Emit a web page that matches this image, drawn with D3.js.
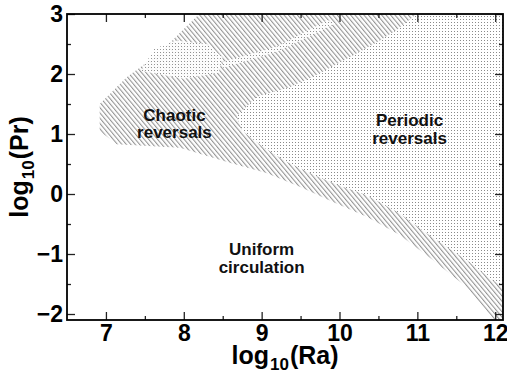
<!DOCTYPE html>
<html>
<head>
<meta charset="utf-8">
<script src="https://cdn.jsdelivr.net/npm/d3@7"></script>
<style>
  body { margin: 0; background: #fff; }
  svg { display: block; font-family: "Liberation Sans", Arial, sans-serif; }
</style>
</head>
<body>
<svg class="svg" width="507" height="375"></svg>
<script>
// boundaries of the regimes, in (log10 Ra, log10 Pr)
const chaoticRegion = [
  [6.92, 1.50], [7.27, 1.95], [7.69, 2.35], [8.0, 2.75], [8.2, 3.0],
  [12.1, 3.0], [12.1, -2.1], [11.96, -2.1], [11.88, -1.93], [11.63, -1.55],
  [11.2, -1.1], [10.77, -0.68], [10.35, -0.38], [9.91, -0.13], [9.49, 0.12],
  [9.06, 0.35], [8.59, 0.52], [7.95, 0.77], [7.14, 0.83], [6.92, 1.05]
];
const periodicRegion = [
  [10.99, 3.0], [12.1, 3.0], [12.1, -1.55], [11.96, -1.43], [11.63, -1.1],
  [11.19, -0.72], [10.77, -0.32], [10.35, -0.02], [10.04, 0.12], [9.7, 0.3],
  [9.3, 0.55], [9.0, 0.8], [8.75, 1.05], [8.68, 1.3], [8.94, 1.62],
  [9.36, 1.78], [9.7, 1.98], [10.13, 2.28], [10.47, 2.52], [10.73, 2.73]
];
// small periodic patches inside the chaotic area
const periodicPatches = [
  [[7.45, 2.05], [7.62, 2.42], [7.9, 2.56], [8.3, 2.5], [8.5, 2.28], [8.45, 2.02], [8.0, 1.92]],
  [[8.5, 2.2], [9.2, 2.46], [9.85, 2.9], [9.95, 2.84], [9.2, 2.37], [8.5, 2.1]]
];

const xTicks = [7, 8, 9, 10, 11, 12];
const yTicks = [-2, -1, 0, 1, 2, 3];
const xMinor = [7.5, 8.5, 9.5, 10.5, 11.5];
const yMinor = [-1.5, -0.5, 0.5, 1.5, 2.5];

const labels = [
  { lines: ["Chaotic", "reversals"], ra: 7.88, pr: 1.22 },
  { lines: ["Periodic", "reversals"], ra: 10.9, pr: 1.13 },
  { lines: ["Uniform", "circulation"], ra: 9.0, pr: -1.02 }
];

const width = 507, height = 375;
const svg = d3.select(".svg");

const x = d3.scaleLinear().domain([6.5, 12.1]).range([67, 503]);
const y = d3.scaleLinear().domain([-2.1, 3]).range([320, 14]);

// patterns
const defs = svg.append("defs");
const hatch = defs.append("pattern")
  .attr("id", "hatch")
  .attr("patternUnits", "userSpaceOnUse")
  .attr("width", 3.4).attr("height", 10)
  .attr("patternTransform", "rotate(-40)");
hatch.append("line")
  .attr("x1", 0.6).attr("y1", 0).attr("x2", 0.6).attr("y2", 10)
  .attr("stroke", "#5a5a5a").attr("stroke-width", 0.75);

const dots = defs.append("pattern")
  .attr("id", "dots")
  .attr("patternUnits", "userSpaceOnUse")
  .attr("width", 3).attr("height", 3);
dots.append("rect").attr("width", 3).attr("height", 3).attr("fill", "#fff");
dots.append("rect").attr("x", 1).attr("y", 1).attr("width", 1).attr("height", 1).attr("fill", "#8a8a8a");

const line = d3.line().x(d => x(d[0])).y(d => y(d[1]));

const clip = defs.append("clipPath").attr("id", "frame");
clip.append("rect").attr("x", x(6.5)).attr("y", y(3))
  .attr("width", x(12.1) - x(6.5)).attr("height", y(-2.1) - y(3));

const plot = svg.append("g").attr("clip-path", "url(#frame)");

plot.append("path")
  .attr("d", line(chaoticRegion) + "Z")
  .attr("fill", "url(#hatch)");

plot.append("path")
  .attr("d", line(periodicRegion) + "Z")
  .attr("fill", "url(#dots)");

plot.selectAll(".patch")
  .data(periodicPatches)
  .enter()
  .append("path")
  .attr("class", "patch")
  .attr("d", d => line(d) + "Z")
  .attr("fill", "url(#dots)")
  .attr("opacity", 0.9);

// region labels, one text per line
svg.selectAll(".lab")
  .data(labels.flatMap(d => d.lines.map((t, i) => ({ t, i, ra: d.ra, pr: d.pr }))))
  .enter()
  .append("text")
  .attr("class", "lab")
  .attr("text-anchor", "middle")
  .attr("font-size", 17)
  .attr("font-weight", "bold")
  .attr("fill", "#111")
  .attr("x", d => x(d.ra))
  .attr("y", d => y(d.pr) + d.i * 17.5)
  .text(d => d.t);

// axes: ticks inside on all four sides
function styleAxis(g) {
  g.select(".domain").remove();
  g.selectAll(".tick line").attr("stroke", "#222").attr("stroke-width", 1.3);
}
function styleLabels(g) {
  g.selectAll("text").attr("font-size", 23).attr("font-weight", "bold")
    .attr("fill", "#000").attr("font-family", "Liberation Sans, Arial, sans-serif");
}

svg.append("g")
  .attr("transform", `translate(0,${y(-2.1)})`)
  .call(d3.axisBottom(x).tickValues(xTicks).tickSize(-8).tickPadding(5).tickFormat(d3.format("d")))
  .call(styleAxis)
  .call(styleLabels);
svg.append("g")
  .attr("transform", `translate(0,${y(-2.1)})`)
  .call(d3.axisBottom(x).tickValues(xMinor).tickSize(-4).tickFormat(""))
  .call(styleAxis);
svg.append("g")
  .attr("transform", `translate(0,${y(3)})`)
  .call(d3.axisTop(x).tickValues(xTicks).tickSize(-8).tickFormat(""))
  .call(styleAxis);
svg.append("g")
  .attr("transform", `translate(0,${y(3)})`)
  .call(d3.axisTop(x).tickValues(xMinor).tickSize(-4).tickFormat(""))
  .call(styleAxis);

svg.append("g")
  .attr("transform", `translate(${x(6.5)},0)`)
  .call(d3.axisLeft(y).tickValues(yTicks).tickSize(-8).tickPadding(4).tickFormat(d3.format("d")))
  .call(styleAxis)
  .call(styleLabels);
svg.append("g")
  .attr("transform", `translate(${x(6.5)},0)`)
  .call(d3.axisLeft(y).tickValues(yMinor).tickSize(-4).tickFormat(""))
  .call(styleAxis);
svg.append("g")
  .attr("transform", `translate(${x(12.1)},0)`)
  .call(d3.axisRight(y).tickValues(yTicks).tickSize(-8).tickFormat(""))
  .call(styleAxis);
svg.append("g")
  .attr("transform", `translate(${x(12.1)},0)`)
  .call(d3.axisRight(y).tickValues(yMinor).tickSize(-4).tickFormat(""))
  .call(styleAxis);

// frame
svg.append("rect")
  .attr("x", x(6.5)).attr("y", y(3))
  .attr("width", x(12.1) - x(6.5)).attr("height", y(-2.1) - y(3))
  .attr("fill", "none").attr("stroke", "#000").attr("stroke-width", 1.8);

// axis titles
const xt = svg.append("text")
  .attr("x", (x(6.5) + x(12.1)) / 2).attr("y", 364)
  .attr("text-anchor", "middle").attr("font-size", 25).attr("font-weight", "bold");
xt.append("tspan").text("log");
xt.append("tspan").attr("font-size", 17).attr("dx", 1).attr("dy", 6).text("10");
xt.append("tspan").attr("dx", 1).attr("dy", -6).text("(Ra)");

const yt = svg.append("text")
  .attr("transform", `translate(28,${(y(3) + y(-2.1)) / 2}) rotate(-90)`)
  .attr("text-anchor", "middle").attr("font-size", 25).attr("font-weight", "bold");
yt.append("tspan").text("log");
yt.append("tspan").attr("font-size", 17).attr("dx", 1).attr("dy", 6).text("10");
yt.append("tspan").attr("dx", 1).attr("dy", -6).text("(Pr)");
</script>
</body>
</html>
